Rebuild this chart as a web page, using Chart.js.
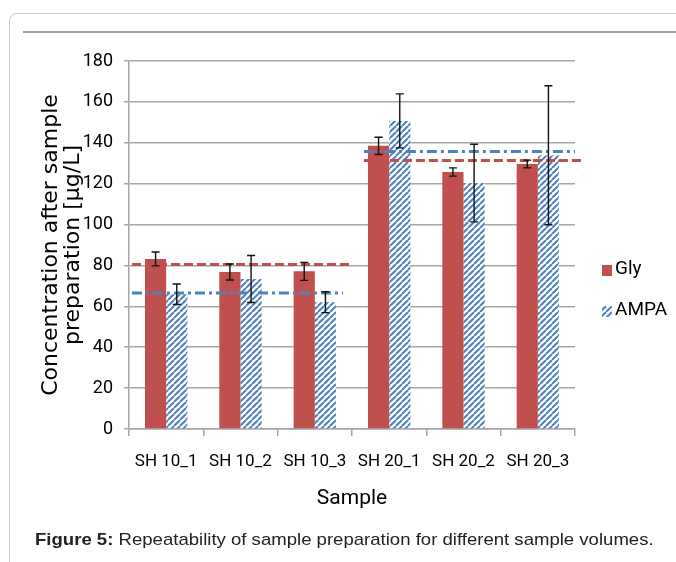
<!DOCTYPE html>
<html>
<head>
<meta charset="utf-8">
<script src="https://cdn.jsdelivr.net/npm/chart.js@4.4.1/dist/chart.umd.min.js"></script>
<style>
  html, body { margin: 0; padding: 0; background: #fff; overflow: hidden; }
  body { width: 676px; height: 562px; position: relative; }
  #frame {
    position: absolute; left: 9px; top: 13px; width: 720px; height: 600px;
    border: 1px solid #c8c8c8; border-radius: 8px; box-sizing: border-box;
  }
  #rule { position: absolute; left: 23px; top: 31px; width: 660px; height: 2px; background: #a0a0a0; }
  #chart { position: absolute; left: 0; top: 0; }
  #caption {
    position: absolute; left: 35px; top: 530px; white-space: nowrap;
    font-family: 'Liberation Sans', Arial, sans-serif; font-size: 17px; color: #222;
    transform-origin: 0 0;
  }
</style>
</head>
<body>
<div id="frame"></div>
<div id="rule"></div>
<canvas id="chart" width="676" height="562"></canvas>
<div id="caption"><b>Figure 5:</b> Repeatability of sample preparation for different sample volumes.</div>

<script>
// Data
const samples = ['SH 10_1', 'SH 10_2', 'SH 10_3', 'SH 20_1', 'SH 20_2', 'SH 20_3'];
const glyValues = [83.2, 76.8, 77.1, 138.5, 125.7, 129.6];
const glyErrors = [3.4, 3.9, 4.4, 4.2, 2.0, 1.9];
const ampaValues = [65.9, 73.4, 62.0, 150.7, 120.3, 133.9];
const ampaErrors = [5.0, 11.5, 5.1, 13.2, 19.0, 34.0];

// Mean lines per sample volume (first/last category index)
const volumeGroups = [[0, 2], [3, 5]];
const glyMeans = [80.5, 131.3];
const ampaMeans = [66.5, 135.7];

const yTicks = [0, 20, 40, 60, 80, 100, 120, 140, 160, 180];

const red = '#c0504d';
const blue = '#4f81bd';
const narrow = "'Liberation Sans Narrow', 'Roboto', sans-serif";

// Stretch the caption to the width it has in the figure
const caption = document.getElementById('caption');
caption.style.transform = 'scaleX(' + (619 / caption.offsetWidth) + ')';

/**
 * Diagonal blue hatch used for the AMPA bars
 */
function makeHatch() {
    const size = 6;
    const c = document.createElement('canvas');
    c.width = size;
    c.height = size;
    const g = c.getContext('2d');
    g.fillStyle = '#ffffff';
    g.fillRect(0, 0, size, size);
    g.strokeStyle = blue;
    g.lineWidth = 2;
    for (let k = -1; k <= 1; k++) {
        g.beginPath();
        g.moveTo(k * size, size);
        g.lineTo(k * size + size, 0);
        g.stroke();
    }
    return g.createPattern(c, 'repeat');
}
const hatch = makeHatch();

/**
 * Error bars, mean lines and the legend
 */
const extrasPlugin = {
    id: 'extras',
    afterDatasetsDraw(chart) {
        const ctx = chart.ctx;
        const x = chart.scales.x;
        const y = chart.scales.y;
        const catW = x.width / samples.length;

        // mean lines
        const trims = [[0.04, -0.12], [0.16, 0.0]];
        ctx.save();
        ctx.lineWidth = 3;
        volumeGroups.forEach(([first, last], g) => {
            const left = x.getPixelForValue(first) - catW / 2;
            const right = x.getPixelForValue(last) + catW / 2;
            const x0 = left + trims[g][0] * catW;
            const x1 = right + trims[g][1] * catW;

            ctx.strokeStyle = red;
            ctx.setLineDash([9, 4]);
            ctx.beginPath();
            ctx.moveTo(x0, y.getPixelForValue(glyMeans[g]));
            ctx.lineTo(x1 + 6, y.getPixelForValue(glyMeans[g]));
            ctx.stroke();

            ctx.strokeStyle = blue;
            ctx.setLineDash([10, 4, 3, 4]);
            ctx.beginPath();
            ctx.moveTo(x0, y.getPixelForValue(ampaMeans[g]));
            ctx.lineTo(x1, y.getPixelForValue(ampaMeans[g]));
            ctx.stroke();
        });
        ctx.restore();

        // error bars
        const errors = [glyErrors, ampaErrors];
        ctx.save();
        ctx.strokeStyle = '#111';
        ctx.lineWidth = 1.4;
        chart.data.datasets.forEach((ds, i) => {
            chart.getDatasetMeta(i).data.forEach((bar, j) => {
                const top = y.getPixelForValue(ds.data[j] + errors[i][j]);
                const bottom = y.getPixelForValue(ds.data[j] - errors[i][j]);
                ctx.beginPath();
                ctx.moveTo(bar.x, top);
                ctx.lineTo(bar.x, bottom);
                ctx.moveTo(bar.x - 4, top);
                ctx.lineTo(bar.x + 4, top);
                ctx.moveTo(bar.x - 4, bottom);
                ctx.lineTo(bar.x + 4, bottom);
                ctx.stroke();
            });
        });
        ctx.restore();
    },
    afterDraw(chart) {
        // legend to the right of the plot
        const ctx = chart.ctx;
        const left = chart.chartArea.right + 27;
        const rows = [269, 310];
        ctx.save();
        ctx.font = '19px ' + narrow;
        ctx.textBaseline = 'middle';
        chart.data.datasets.forEach((ds, i) => {
            ctx.fillStyle = ds.backgroundColor;
            ctx.fillRect(left, rows[i] - 4, 10, 11);
            ctx.fillStyle = '#000';
            ctx.fillText(ds.label, left + 13, rows[i]);
        });
        ctx.restore();
    }
};

new Chart(document.getElementById('chart'), {
    type: 'bar',
    data: {
        labels: samples,
        datasets: [
            { label: 'Gly', data: glyValues, backgroundColor: red },
            { label: 'AMPA', data: ampaValues, backgroundColor: hatch }
        ]
    },
    options: {
        responsive: false,
        animation: false,
        datasets: { bar: { categoryPercentage: 0.57, barPercentage: 1.0 } },
        layout: { padding: { left: 20, top: 61, right: 101, bottom: 43 } },
        plugins: {
            legend: { display: false },
            tooltip: { enabled: false }
        },
        scales: {
            x: {
                grid: { offset: true, drawOnChartArea: false, tickLength: 7, color: '#a6a6a6', lineWidth: 1.5 },
                border: { color: '#a6a6a6', width: 1.5 },
                ticks: { font: { family: narrow, size: 17 }, color: '#000', padding: 16 },
                title: {
                    display: true, text: 'Sample', color: '#000',
                    font: { family: narrow, size: 21 }, padding: { top: 0, bottom: 8 }
                },
                afterFit: (scale) => { scale.height = 90; }
            },
            y: {
                min: 0,
                max: 180,
                afterBuildTicks: (scale) => { scale.ticks = yTicks.map(v => ({ value: v })); },
                grid: { tickLength: 5, color: '#a6a6a6', lineWidth: 1.5 },
                border: { color: '#a6a6a6', width: 1.5 },
                ticks: { font: { family: narrow, size: 18 }, color: '#000', padding: 11 },
                title: {
                    display: true,
                    text: ['Concentration after sample', 'preparation [µg/L]'],
                    color: '#000',
                    font: { family: "'DejaVu Sans', sans-serif", size: 22, lineHeight: 0.98 },
                    padding: { top: 21, bottom: 0 }
                },
                afterFit: (scale) => { scale.width = 109; }
            }
        }
    },
    plugins: [extrasPlugin]
});
</script>
</body>
</html>
